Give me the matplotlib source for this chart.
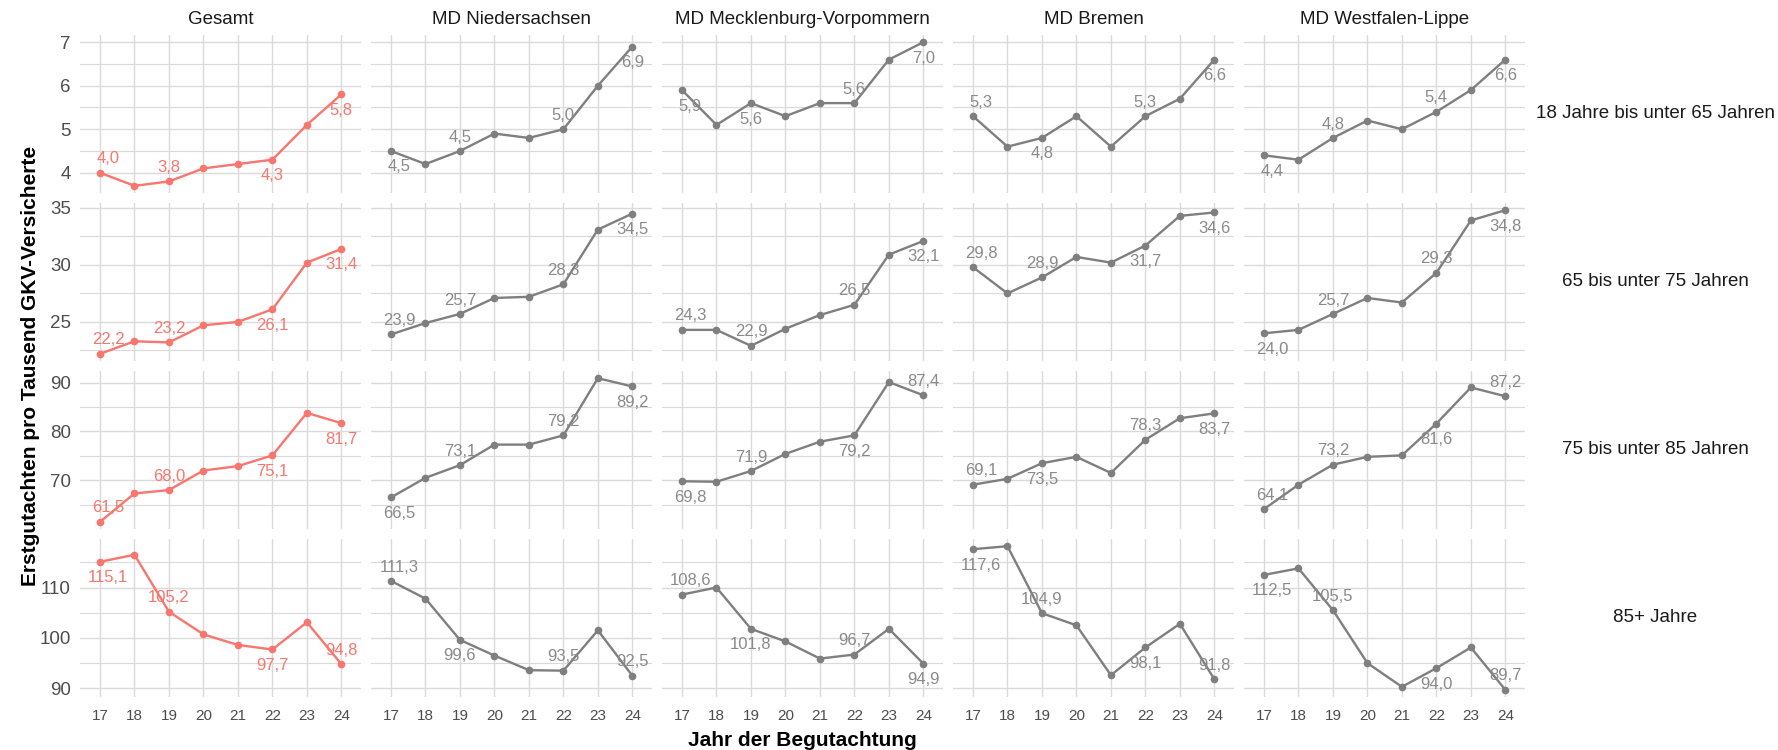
import matplotlib
matplotlib.use("Agg")
import matplotlib.pyplot as plt
import matplotlib.ticker as mtick

plt.rcParams['font.family'] = ['Liberation Sans', 'DejaVu Sans']

# data: rate of first assessments per 1000 insured, years 2017-2024
years = [17, 18, 19, 20, 21, 22, 23, 24]
regions = ['Gesamt', 'MD Niedersachsen', 'MD Mecklenburg-Vorpommern',
           'MD Bremen', 'MD Westfalen-Lippe']
age_groups = ['18 Jahre bis unter 65 Jahren', '65 bis unter 75 Jahren',
              '75 bis unter 85 Jahren', '85+ Jahre']

# one list per region, order as in `regions`
rate_18_65 = [
    [4.0, 3.7, 3.8, 4.1, 4.2, 4.3, 5.1, 5.8],
    [4.5, 4.2, 4.5, 4.9, 4.8, 5.0, 6.0, 6.9],
    [5.9, 5.1, 5.6, 5.3, 5.6, 5.6, 6.6, 7.0],
    [5.3, 4.6, 4.8, 5.3, 4.6, 5.3, 5.7, 6.6],
    [4.4, 4.3, 4.8, 5.2, 5.0, 5.4, 5.9, 6.6],
]
rate_65_75 = [
    [22.2, 23.3, 23.2, 24.7, 25.0, 26.1, 30.2, 31.4],
    [23.9, 24.9, 25.7, 27.1, 27.2, 28.3, 33.1, 34.5],
    [24.3, 24.3, 22.9, 24.4, 25.6, 26.5, 30.9, 32.1],
    [29.8, 27.5, 28.9, 30.7, 30.2, 31.7, 34.3, 34.6],
    [24.0, 24.3, 25.7, 27.1, 26.7, 29.3, 33.9, 34.8],
]
rate_75_85 = [
    [61.5, 67.3, 68.0, 72.0, 72.9, 75.1, 83.8, 81.7],
    [66.5, 70.5, 73.1, 77.3, 77.3, 79.2, 90.9, 89.2],
    [69.8, 69.7, 71.9, 75.4, 77.9, 79.2, 90.1, 87.4],
    [69.1, 70.3, 73.5, 74.8, 71.5, 78.3, 82.7, 83.7],
    [64.1, 69.1, 73.2, 74.8, 75.1, 81.6, 89.0, 87.2],
]
rate_85_plus = [
    [115.1, 116.5, 105.2, 100.7, 98.6, 97.7, 103.1, 94.8],
    [111.3, 107.8, 99.6, 96.5, 93.6, 93.5, 101.5, 92.5],
    [108.6, 110.0, 101.8, 99.3, 95.9, 96.7, 101.8, 94.9],
    [117.6, 118.2, 104.9, 102.5, 92.6, 98.1, 102.8, 91.8],
    [112.5, 113.8, 105.5, 95.0, 90.3, 94.0, 98.1, 89.7],
]
all_rates = [rate_18_65, rate_65_75, rate_75_85, rate_85_plus]

label_years = [17, 19, 22, 24]

# where the value labels sit: a = above point, b = below point
label_side = [
    ['aabb', 'baab', 'bbab', 'abab', 'baab'],
    ['aabb', 'aaab', 'aaab', 'aabb', 'baab'],
    ['aabb', 'baab', 'baba', 'abab', 'aaba'],
    ['baba', 'abaa', 'abab', 'baba', 'baba'],
]
y_major = [1, 5, 10, 10]

RED = '#F8766D'
GREY = '#7F7F7F'
GRID = '#DADADA'

W, H = 1778, 750
fig = plt.figure(figsize=(W / 100, H / 100), dpi=100)

panel_w, panel_h = 281, 158
col_step, row_step = 291, 168
left0, top0 = 80, 35

for r, rates in enumerate(all_rates):
    # free y scale per row, 5% padding like ggplot
    lo = min(min(v) for v in rates)
    hi = max(max(v) for v in rates)
    pad = (hi - lo) * 0.05
    for c, vals in enumerate(rates):
        x0 = left0 + c * col_step
        y0 = top0 + r * row_step
        ax = fig.add_axes([x0 / W, 1 - (y0 + panel_h) / H, panel_w / W, panel_h / H])
        col = RED if c == 0 else GREY
        lab_col = RED if c == 0 else '#8A8A8A'

        ax.plot(years, vals, color=col, lw=1.7, marker='o', ms=4.5, zorder=3)

        for k, yr in enumerate(label_years):
            v = vals[years.index(yr)]
            side = label_side[r][c][k]
            dy = 10 if side == 'a' else -11.5
            dx = 6 if yr == 17 else 0
            ax.annotate(f'{v:.1f}'.replace('.', ','), (yr, v),
                        xytext=(dx, dy), textcoords='offset points',
                        ha='center', va='center', fontsize=12,
                        color=lab_col, zorder=4)

        ax.set_xlim(16.42, 24.57)
        ax.set_ylim(lo - pad, hi + pad)
        ax.xaxis.set_major_locator(mtick.FixedLocator(years))
        ax.yaxis.set_major_locator(mtick.MultipleLocator(y_major[r]))
        ax.yaxis.set_minor_locator(mtick.MultipleLocator(y_major[r] / 2))
        ax.grid(which='major', color=GRID, lw=1.0)
        ax.grid(which='minor', axis='y', color=GRID, lw=0.8)
        ax.set_axisbelow(True)
        for s in ax.spines.values():
            s.set_visible(False)
        ax.tick_params(which='both', length=0)
        ax.tick_params(axis='x', labelsize=11, labelcolor='#4D4D4D', pad=9)
        ax.tick_params(axis='y', labelsize=13.5, labelcolor='#4D4D4D', pad=6.5)
        if r < 3:
            ax.set_xticklabels([])
        if c > 0:
            ax.set_yticklabels([])

        if r == 0:
            fig.text((x0 + panel_w / 2) / W, 1 - 20 / H, regions[c],
                     ha='center', va='center', fontsize=13.5, color='#1A1A1A')
    fig.text(1655 / W, 1 - (top0 + r * row_step + panel_h / 2) / H, age_groups[r],
             ha='center', va='center', fontsize=13.5, color='#1A1A1A')

fig.text(31 / W, 1 - 366 / H, 'Erstgutachten pro Tausend GKV-Versicherte',
         rotation=90, ha='center', va='center', fontsize=15, fontweight='bold')
fig.text(802 / W, 1 - 740 / H, 'Jahr der Begutachtung',
         ha='center', va='center', fontsize=15, fontweight='bold')

fig.savefig('out.png', dpi=100, facecolor='white')
